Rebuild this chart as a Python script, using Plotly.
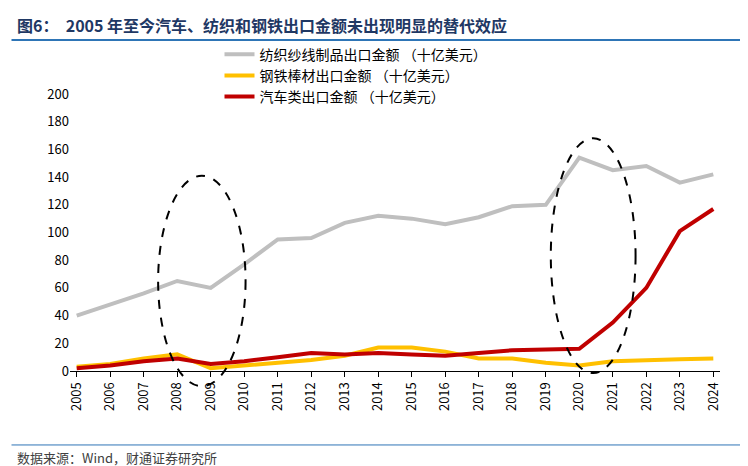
import plotly.graph_objects as go

years = [str(y) for y in range(2005, 2025)]
textile = [40, 48, 56, 65, 60, 77, 95, 96, 107, 112, 110, 106, 111, 119, 120, 154, 145, 148, 136, 142]
steel = [3, 5, 9, 12, 2, 4, 6, 8, 11, 17, 17, 14, 9, 9, 6, 4, 7, 8, 8.5, 9]
auto = [2, 4, 7, 9, 5, 7, 10, 13, 12, 13, 12, 11, 13, 15, 15.5, 16, 35, 60, 101, 117]

names = ["纺织纱线制品出口金额 （十亿美元）", "钢铁棒材出口金额 （十亿美元）", "汽车类出口金额 （十亿美元）"]
colors = ["#BFBFBF", "#FFC000", "#C00000"]

fig = go.Figure()
for n, v, c in zip(names, [textile, steel, auto], colors):
    fig.add_trace(go.Scatter(x=years, y=v, name=n, mode="lines", line=dict(color=c, width=4)))

# dashed ellipses
for x0, x1, y0, y1 in [(2.43, 5.04, -0.055, 0.705), (14.15, 16.68, -0.0075, 0.84)]:
    fig.add_shape(type="circle", xref="x", yref="paper", x0=x0, x1=x1, y0=y0, y1=y1,
                  line=dict(color="black", width=2, dash="dash"))

fig.add_annotation(text="<b>图6：  2005 年至今汽车、纺织和钢铁出口金额未出现明显的替代效应</b>",
                   xref="paper", yref="paper", x=-0.085, y=1.25, xanchor="left", yanchor="middle",
                   showarrow=False, font=dict(size=16, color="#1F3864"))
fig.add_annotation(text="数据来源：Wind，财通证券研究所", xref="paper", yref="paper",
                   x=-0.085, y=-0.314, xanchor="left", yanchor="middle", showarrow=False,
                   font=dict(size=13, color="#404040"))
fig.add_shape(type="line", xref="paper", yref="paper", x0=-0.09, x1=1.055, y0=1.195, y1=1.195,
              line=dict(color="#2E75B6", width=2))
fig.add_shape(type="line", xref="paper", yref="paper", x0=-0.09, x1=1.055, y0=-0.267, y1=-0.267,
              line=dict(color="#2E75B6", width=1))

fig.update_layout(
    width=748, height=466, plot_bgcolor="white", paper_bgcolor="white",
    margin=dict(l=62, r=36, t=86, b=103, autoexpand=False),
    font=dict(family="Noto Sans CJK SC", size=13, color="black"),
    legend=dict(x=0.23, y=1.2, xanchor="left", yanchor="top", bgcolor="rgba(0,0,0,0)",
                font=dict(size=14), tracegroupgap=0),
    showlegend=True,
)
fig.update_xaxes(type="category", tickangle=-90, showline=True, linecolor="black",
                 ticks="outside", tickcolor="black", showgrid=False, range=[-0.2, 19.2])
fig.update_yaxes(range=[0, 200], dtick=20, showgrid=False, showline=False, zeroline=False)

fig.write_html("out.html")
